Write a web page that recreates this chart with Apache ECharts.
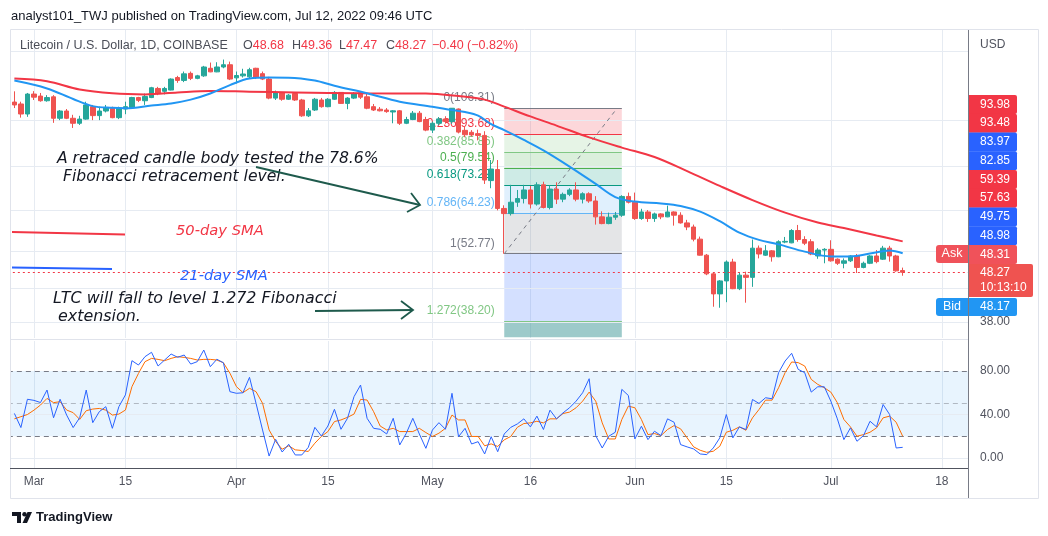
<!DOCTYPE html>
<html><head><meta charset="utf-8">
<script src="https://cdn.jsdelivr.net/npm/echarts@6/dist/echarts.min.js"></script>
<style>html,body{margin:0;padding:0;background:#fff;}#c{width:1048px;height:536px;}</style>
</head><body><div id="c"></div>
<script>
// ---------- DATA ----------
const axisStart = '2022-02-25';      // first category (left edge)
const axisDays = 148;                // number of daily categories on the time axis
const candleStart = '2022-02-26';
// [open, close, low, high]
const ohlc = [
[109.4,107.9,106.3,115.2],[108.4,103.3,101.5,109.6],[103.3,113.7,101.9,114.3],
[113.7,112.0,110.5,115.3],[112.6,110.1,109.6,114.3],[110.1,111.8,109.6,113.1],[112.2,101.2,99.0,113.1],
[101.2,104.8,100.3,105.3],[104.8,101.2,100.8,105.8],[101.2,98.8,96.6,102.9],[98.8,100.8,98.0,102.4],
[100.8,107.9,100.5,109.6],[107.0,102.5,100.3,107.9],[102.5,104.8,100.3,107.0],[104.8,106.5,104.1,107.9],
[106.2,101.5,101.2,107.0],[101.5,106.2,100.8,107.0],[105.8,107.0,103.2,109.6],[106.5,111.8,106.2,112.2],
[111.8,110.3,109.4,112.2],[110.1,112.4,107.9,114.0],[111.8,117.2,111.5,117.7],[116.8,114.0,113.1,117.7],
[115.2,116.8,113.5,117.7],[115.9,122.2,115.7,122.6],[123.1,121.4,120.0,124.1],[121.4,125.3,120.4,126.7],
[125.6,122.6,121.6,126.7],[122.6,124.1,122.1,124.7],[124.1,129.5,123.5,130.2],[128.7,126.5,126.3,132.3],
[126.5,129.5,126.3,132.5],[129.5,130.9,128.7,134.2],[130.9,122.2,121.6,132.9],
[122.9,124.3,119.6,126.7],[124.1,125.2,123.1,128.4],[123.5,127.8,122.6,129.0],[128.7,123.1,122.2,129.0],
[125.4,122.2,121.6,126.7],[122.2,111.5,110.9,123.5],[111.5,114.4,110.5,115.6],[114.4,110.9,110.1,114.8],
[110.9,113.1,110.5,113.7],[114.0,110.5,110.0,114.8],[110.5,102.4,101.9,111.1],[102.4,104.9,101.8,106.3],
[105.3,110.9,104.8,111.6],[110.5,107.0,106.5,111.6],[107.0,110.9,106.7,111.5],[110.9,114.6,110.5,115.3],
[114.6,108.7,108.4,114.8],[108.7,111.5,105.7,112.0],[111.5,114.0,111.0,114.8],[114.4,112.0,111.0,115.3],
[112.2,106.2,105.7,114.3],[107.0,105.3,104.8,108.4],[105.7,104.9,104.6,106.8],[105.3,104.5,103.9,106.3],
[104.3,104.9,98.8,105.3],[104.9,98.8,98.0,105.3],[98.8,100.6,98.4,101.9],[100.6,103.7,100.3,104.8],
[103.7,99.6,99.3,104.8],[100.6,95.6,95.1,101.9],
[95.6,98.8,94.3,99.6],[98.8,100.9,97.8,101.8],[100.9,99.6,98.6,102.2],[99.6,106.2,98.5,106.31],
[105.8,94.7,94.1,106.1],[95.5,93.5,92.4,97.5],[94.6,93.4,92.7,95.6],[94.0,93.2,91.0,95.8],
[93.2,75.2,73.8,95.1],[75.0,79.3,72.3,82.8],[79.1,65.6,65.0,82.8],[65.6,64.0,52.77,66.6],
[64.0,67.6,63.4,73.5],[67.6,68.8,66.1,71.7],[68.8,71.7,67.2,73.5],[71.7,67.0,65.6,73.1],
[67.0,73.5,66.5,74.4],[73.5,65.9,65.6,74.6],[65.9,72.0,65.3,73.3],[72.0,68.6,67.0,74.4],
[68.6,70.2,67.6,70.8],[70.2,71.7,69.6,72.3],[71.7,68.6,67.9,74.4],[68.6,70.4,67.2,70.9],
[70.4,68.0,67.4,70.9],[68.0,63.0,60.7,69.6],[63.0,61.0,60.8,64.7],[61.0,62.9,60.8,64.3],
[62.9,63.5,62.1,64.5],[63.5,69.5,63.0,69.9],[69.5,67.6,67.2,70.8],
[67.6,62.5,62.1,70.8],[62.5,64.5,62.1,65.5],[64.5,62.5,61.5,65.1],[62.5,63.9,61.5,64.3],
[63.9,63.0,62.3,64.1],[63.0,64.5,62.9,66.5],[64.5,63.5,60.4,64.7],[63.5,61.2,61.0,64.4],
[61.2,60.0,59.1,62.1],[60.0,56.6,56.0,60.7],[56.6,52.4,52.3,57.3],[52.4,47.9,47.6,52.7],
[47.9,43.5,40.9,48.3],[43.5,46.3,40.7,46.5],[46.3,50.7,41.8,51.1],[50.7,44.6,44.5,51.5],
[44.6,47.6,44.3,48.3],[47.6,47.1,41.7,48.4],[47.1,54.2,45.0,56.5],[54.2,52.7,51.6,54.9],
[52.4,53.5,52.2,55.0],[53.5,52.0,50.8,53.7],[52.0,55.9,51.9,56.3],[55.8,56.0,55.5,57.2],
[55.6,59.0,55.5,59.4],[59.0,56.5,55.9,60.6],[56.5,55.5,55.0,57.4],[55.9,52.7,52.4,56.6],
[52.2,53.7,51.5,54.2],[53.7,53.9,50.4,54.2],
[53.9,51.0,50.8,56.3],[51.4,50.4,50.0,51.6],[50.4,51.0,49.2,51.6],[51.0,52.2,50.7,52.4],
[52.2,49.4,48.1,52.7],[49.4,50.4,49.2,50.8],[50.4,52.2,50.2,52.4],[52.2,50.8,50.4,53.7],
[51.4,54.2,51.2,54.8],[54.2,52.2,50.8,54.8],[52.2,48.6,48.4,52.5],[48.68,48.27,47.47,49.36]
];
const sma21 = [['2022-02-26',121.3],['2022-03-03',116.8],['2022-03-07',111.0],['2022-03-10',107.3],['2022-03-13',106.4],['2022-03-15',106.2],['2022-03-19',107.6],['2022-03-22',108.7],['2022-03-25',110.7],['2022-03-28',114.0],['2022-03-31',118.7],['2022-04-03',122.5],['2022-04-06',123.1],['2022-04-09',123.0],['2022-04-13',121.3],['2022-04-16',118.3],['2022-04-21',114.1],['2022-04-26',109.6],['2022-05-01',107.0],['2022-05-04',105.3],['2022-05-06',104.3],['2022-05-08',102.5],['2022-05-10',98.4],['2022-05-12',95.6],['2022-05-15',91.2],['2022-05-18',86.7],['2022-05-22',80.2],['2022-05-26',73.8],['2022-05-29',69.3],['2022-06-01',67.8],['2022-06-05',67.2],['2022-06-08',66.4],['2022-06-11',64.6],['2022-06-14',61.7],['2022-06-17',58.4],['2022-06-20',56.4],['2022-06-23',55.2],['2022-06-27',53.3],['2022-07-01',52.1],['2022-07-04',52.1],['2022-07-07',52.8],['2022-07-10',53.6],['2022-07-12',52.9]];
const sma50 = [['2022-02-26',122.5],['2022-03-03',120.9],['2022-03-08',116.2],['2022-03-13',114.1],['2022-03-18',113.5],['2022-03-23',114.6],['2022-03-28',115.4],['2022-04-03',115.0],['2022-04-10',114.6],['2022-04-20',114.1],['2022-04-30',114.0],['2022-05-05',112.6],['2022-05-09',110.7],['2022-05-12',107.0],['2022-05-16',102.1],['2022-05-20',97.7],['2022-05-25',92.3],['2022-05-30',87.9],['2022-06-04',84.0],['2022-06-09',78.5],['2022-06-14',73.1],['2022-06-19',68.3],['2022-06-24',64.3],['2022-06-29',61.3],['2022-07-03',59.7],['2022-07-08',57.6],['2022-07-12',56.0]];
const stochK = [41,28,54,
53,51,62.5,37,54,39.5,28,37,62.5,32.5,42.6,47.2,27.3,47.2,58,89.5,85.5,93.2,97.2,84.6,90.1,95.6,92.6,94.7,86.4,88.6,99.3,84,90.8,87.6,61,
59.5,60,74.2,50.3,25.7,1.8,17.2,5.5,12.6,2.8,2.8,9.8,28.2,20.2,29.4,44.8,26.4,36.5,56.4,67.1,36.5,27.3,26.4,22.1,36.5,12,22.7,36.5,22.1,8.9,
25.7,32.5,26.4,59.5,19.6,27.3,12.9,15,3.7,19.6,5.8,22.1,28.2,31.3,36,28.6,38.5,26.2,44,36,41.5,46.2,52.3,60,72.9,20.6,9.2,20,23.7,63.1,57.5,
17.5,29.2,16.9,24.6,20.6,36,32.9,12.3,10.2,8.3,3.7,3.1,9.2,18.5,40,18.5,28.6,26.2,53.8,50.2,55.4,54.5,78.5,89.2,96.3,81.5,78.5,60.6,65.5,65.5,
52.3,36,16.9,27.7,15.4,20.6,33.8,28.6,49.2,40,9.2,9.8];
const stochD = [36,38,40,
44,48.7,54.8,50.9,51.8,44.1,41.7,35.5,43.5,45,45.6,44,39.5,40.4,44.1,65.6,77.8,88.6,91.6,90.7,89.5,91.6,93.2,92.5,91.6,90.1,90.7,90.7,90.1,87.6,78,
65.6,60.1,64.1,61,50.3,25.8,15.2,8.1,11.2,7.5,6.9,6.0,13.6,19.8,24.3,33.5,35,37.4,40.4,53.9,53.3,42.6,29.4,25.8,27.3,24.3,24.3,24.3,27.3,23.4,
19.8,22.8,27.3,39.5,35,35,19.8,19.8,11.2,13,10.6,16.7,19.8,28.2,31.7,32.3,33.8,32.3,36,36,40.9,42.2,46.2,52.3,60.6,52.3,32.3,17.5,17.5,35.4,47.7,
46.2,35.4,21.5,22.5,20.6,26.2,29.8,26.8,18.5,10.2,7.1,5.2,6.2,10.8,23.7,25.5,28.6,25.5,36.9,44.6,53.2,53.2,64.6,78.5,88.3,87.7,84.6,72.3,67.7,64.6,
60.6,50.8,35.4,28.6,20,21.5,23.7,27.7,36.9,38.5,32.9,20];
const tickDates = ['2022-03-01','2022-03-15','2022-04-01','2022-04-15','2022-05-01','2022-05-16','2022-06-01','2022-06-15','2022-07-01','2022-07-18'];
const tickLabels = ['Mar','15','Apr','15','May','16','Jun','15','Jul','18'];
const priceGridLevels = [139.8,100.3,80.4,65.1,53.3,44.7,38.0];
const fibStart = '2022-05-12', fibEnd = '2022-05-30';
const fibRatios = [0,0.236,0.382,0.5,0.618,0.786,1,1.272];
const fibPrices = [106.31,93.68,85.86,79.54,73.22,64.23,52.77,38.20];
const fibLineColors = ['#787b86','#f23645','#81c784','#4caf50','#089981','#64b5f6','#787b86','#81c784'];
const fibFillColors = ['rgba(242,54,69,0.2)','rgba(129,199,132,0.2)','rgba(76,175,80,0.2)','rgba(8,153,129,0.2)','rgba(100,181,246,0.2)','rgba(120,123,134,0.2)','rgba(41,98,255,0.2)','rgba(60,150,150,0.5)'];
const lastPrice = 48.27;
const stochLevels = {upper:80, mid:50, lower:20};
const rightTags = [['93.98','#f23645'],['93.48','#f23645'],['83.97','#2962ff'],['82.85','#2962ff'],['59.39','#f23645'],['57.63','#f23645'],['49.75','#2962ff'],['48.98','#2962ff'],['48.31','#f0525a']];

// ---------- BUILD ----------
const dates = [];
{ const d0 = new Date(axisStart + 'T00:00:00Z');
  for (let i = 0; i < axisDays; i++) { const d = new Date(d0.getTime() + i*86400000); dates.push(d.toISOString().slice(0,10)); } }
const offset = dates.indexOf(candleStart);
const pad = n => new Array(n).fill('-');
const candleData = pad(offset).concat(ohlc);
const kData = pad(offset).concat(stochK);
const dData = pad(offset).concat(stochD);
const tickMap = {}; tickDates.forEach((d,i)=>tickMap[d]=tickLabels[i]);
const isTick = (idx, val) => tickMap[val] !== undefined;
const FONT = 'Liberation Sans';
const gridColor = '#e6ebf2';
const axisTextColor = '#50535e';

const fibMarkLines = fibPrices.map((p,i)=>[{coord:[fibStart,p], lineStyle:{color:fibLineColors[i], width:1, type:'solid'}},{coord:[fibEnd,p]}]);
fibMarkLines.push([{coord:[fibStart,fibPrices[6]], lineStyle:{color:'#787b86', width:1, type:[4,4]}},{coord:['2022-05-29',105]}]);
const fibAreas = [];
for (let i=0;i<fibPrices.length-1;i++) fibAreas.push([{coord:[fibStart,fibPrices[i]], itemStyle:{color:fibFillColors[i]}},{coord:[fibEnd,fibPrices[i+1]]}]);
fibAreas.push([{coord:[fibStart,fibPrices[7]], itemStyle:{color:fibFillColors[7]}},{coord:[fibEnd,35.3]}]);
const fibLabels = fibPrices.map((p,i)=>({name: String(fibRatios[i]) + '(' + p.toFixed(2) + ')', coord:[fibStart,p], label:{color:fibLineColors[i]}}));

const option = {
  animation:false,
  backgroundColor:'#ffffff',
  textStyle:{fontFamily:FONT},
  grid:[
    {left:7.84, right:80, top:30, height:308},
    {left:7.84, right:80, top:341, height:127}
  ],
  xAxis:[
    {type:'category', gridIndex:0, data:dates, boundaryGap:false,
     axisLine:{show:false}, axisTick:{show:false}, axisLabel:{show:false},
     splitLine:{show:true, interval:isTick, lineStyle:{color:gridColor, width:1}}},
    {type:'category', gridIndex:1, data:dates, boundaryGap:false,
     axisLine:{show:true, lineStyle:{color:'#50535e', width:1}}, axisTick:{show:false},
     axisLabel:{show:true, interval:isTick, formatter:v=>tickMap[v]||'', color:axisTextColor, fontSize:12, margin:8, fontFamily:FONT},
     splitLine:{show:true, interval:isTick, lineStyle:{color:gridColor, width:1}}}
  ],
  yAxis:[
    {type:'log', logBase:10, gridIndex:0, min:35.19, max:154.7, position:'right',
     axisLine:{show:false}, axisTick:{show:false}, axisLabel:{show:false}, splitLine:{show:false}},
    {type:'value', gridIndex:1, min:-9.2, max:107.6, position:'right',
     axisLine:{show:false}, axisTick:{show:false}, axisLabel:{show:false}, splitLine:{show:false}}
  ],
  series:[
    {name:'priceGrid', type:'line', xAxisIndex:0, yAxisIndex:0, data:[], silent:true,
     markLine:{silent:true, symbol:'none', z:1, animation:false,
       lineStyle:{color:gridColor, width:1, type:'solid'},
       label:{show:false},
       data: priceGridLevels.map(v=>({yAxis:v, label:{show: v===38.0, position:'end', distance:12, formatter:v.toFixed(2), color:axisTextColor, fontSize:12, fontFamily:FONT}}))}},
    {name:'fib', type:'line', xAxisIndex:0, yAxisIndex:0, data:[], silent:true,
     markArea:{silent:true, z:1, data:fibAreas},
     markLine:{silent:true, symbol:'none', z:3, label:{show:false}, data:fibMarkLines},
     markPoint:{silent:true, z:4, symbol:'circle', symbolSize:1, itemStyle:{color:'rgba(0,0,0,0)'},
       label:{show:true, position:'left', distance:9, offset:[0,-10.5], fontSize:12, fontFamily:FONT, formatter:p=>p.name},
       data:fibLabels}},
    {name:'LTCUSD', type:'candlestick', xAxisIndex:0, yAxisIndex:0, data:candleData, barWidth:5, clip:false, z:5,
     itemStyle:{color:'#26a69a', color0:'#ef5350', borderColor:'#26a69a', borderColor0:'#ef5350', borderWidth:1},
     markLine:{silent:true, symbol:'none', z:6, label:{show:false},
       data:[{yAxis:lastPrice, lineStyle:{color:'#f23645', width:1, type:[2,3]}}]}},
    {name:'SMA 50', type:'line', xAxisIndex:0, yAxisIndex:0, data:sma50, smooth:0.35, showSymbol:false, z:7,
     lineStyle:{color:'#f23645', width:2}},
    {name:'SMA 21', type:'line', xAxisIndex:0, yAxisIndex:0, data:sma21, smooth:0.35, showSymbol:false, z:7,
     lineStyle:{color:'#2196f3', width:2}},
    {name:'stochBands', type:'line', xAxisIndex:1, yAxisIndex:1, data:[], silent:true,
     markArea:{silent:true, z:1, data:[[{yAxis:stochLevels.lower, itemStyle:{color:'rgba(33,150,243,0.1)'}},{yAxis:stochLevels.upper}]]},
     markLine:{silent:true, symbol:'none', z:2,
       label:{show:false},
       data:[
         {yAxis:stochLevels.upper, lineStyle:{color:'#787b86', width:1, type:[5,4]}, label:{show:true, position:'end', distance:12, formatter:'80.00', color:axisTextColor, fontSize:12, fontFamily:FONT}},
         {yAxis:stochLevels.mid, lineStyle:{color:'rgba(120,123,134,0.5)', width:1, type:[5,4]}},
         {yAxis:stochLevels.lower, lineStyle:{color:'#787b86', width:1, type:[5,4]}},
         {yAxis:40, lineStyle:{color:gridColor, width:1, type:'solid'}, label:{show:true, position:'end', distance:12, formatter:'40.00', color:axisTextColor, fontSize:12, fontFamily:FONT}},
         {yAxis:0, lineStyle:{color:gridColor, width:1, type:'solid'}, label:{show:true, position:'end', distance:12, formatter:'0.00', color:axisTextColor, fontSize:12, fontFamily:FONT}}
       ]}},
    {name:'%D', type:'line', xAxisIndex:1, yAxisIndex:1, data:dData, showSymbol:false, z:5, lineStyle:{color:'#ff6d00', width:1}},
    {name:'%K', type:'line', xAxisIndex:1, yAxisIndex:1, data:kData, showSymbol:false, z:6, lineStyle:{color:'#2962ff', width:1}}
  ],
  graphic:[]
};

// ---------- ANNOTATIONS / CHROME ----------
const g = option.graphic;
const txt = (x,y,text,extra) => g.push(Object.assign({type:'text', z:100, silent:true, style:Object.assign({x, y, text, fontFamily:FONT, fontSize:12, fill:'#131722', verticalAlign:'middle'}, extra||{})}));
g.push({type:'rect', z:90, silent:true, shape:{x:0,y:28,width:10,height:475}, style:{fill:'#ffffff'}});
g.push({type:'rect', z:91, silent:true, shape:{x:10.5,y:29.5,width:1028,height:469}, style:{fill:'none', stroke:'#e0e3eb', lineWidth:1}});
g.push({type:'line', z:92, silent:true, shape:{x1:10,y1:339.5,x2:968,y2:339.5}, style:{stroke:'#e0e3eb', lineWidth:1}});
g.push({type:'line', z:92, silent:true, shape:{x1:10,y1:468.5,x2:968,y2:468.5}, style:{stroke:'#50535e', lineWidth:1}});
g.push({type:'line', z:92, silent:true, shape:{x1:968.5,y1:30,x2:968.5,y2:498}, style:{stroke:'#787b86', lineWidth:1}});

txt(11,16,'analyst101_TWJ published on TradingView.com, Jul 12, 2022 09:46 UTC',{fontSize:13});
txt(20,46,'Litecoin / U.S. Dollar, 1D, COINBASE',{fontSize:12.5, fill:'#4a4d57'});
const legendVals = [['O','48.68',243],['H','49.36',292],['L','47.47',339],['C','48.27',386]];
legendVals.forEach(([k,v,x])=>g.push({type:'text', z:100, silent:true, style:{x, y:46, verticalAlign:'middle', text:'{k|'+k+'}{v|'+v+'}', fontFamily:FONT, fontSize:12.5,
  rich:{k:{fill:'#4a4d57', fontSize:12.5, fontFamily:FONT}, v:{fill:'#f23645', fontSize:12.5, fontFamily:FONT}}}}));
txt(432,46,'\u22120.40 (\u22120.82%)',{fontSize:12.5, fill:'#f23645'});

const ital = {fontStyle:'italic', fontFamily:'DejaVu Sans', fontSize:15.6, fill:'#131722'};
txt(57,159,'A retraced candle body tested the 78.6%',ital);
txt(63,177,'Fibonacci retracement level.',ital);
txt(176,231,'50-day SMA',Object.assign({},ital,{fill:'#f23645', fontSize:14.7}));
txt(180,276,'21-day SMA',Object.assign({},ital,{fill:'#2962ff', fontSize:14.7}));
txt(53,299,'LTC will fall to level 1.272 Fibonacci',Object.assign({},ital,{fontSize:15.9}));
txt(58,317,'extension.',Object.assign({},ital,{fontSize:15.9}));

const arrowColor = '#1e5a4c';
g.push({type:'line', z:100, silent:true, shape:{x1:256,y1:167,x2:420,y2:205}, style:{stroke:arrowColor, lineWidth:1.8}});
g.push({type:'polyline', z:100, silent:true, shape:{points:[[411,193],[420,205],[407,212]]}, style:{stroke:arrowColor, lineWidth:1.8, fill:'none'}});
g.push({type:'line', z:100, silent:true, shape:{x1:315,y1:311,x2:413,y2:310}, style:{stroke:arrowColor, lineWidth:1.8}});
g.push({type:'polyline', z:100, silent:true, shape:{points:[[401,301],[413,310],[401,319]]}, style:{stroke:arrowColor, lineWidth:1.8, fill:'none'}});
g.push({type:'line', z:100, silent:true, shape:{x1:12,y1:232,x2:125,y2:234.5}, style:{stroke:'#f23645', lineWidth:2}});
g.push({type:'line', z:100, silent:true, shape:{x1:12,y1:267.5,x2:112,y2:269}, style:{stroke:'#2962ff', lineWidth:2}});

// price-scale tags
txt(980,45,'USD',{fontSize:12, fill:'#50535e'});
const tagH = 18.75;
rightTags.forEach(([t,c],i)=>{
  const y = 95 + i*tagH;
  g.push({type:'rect', z:100, silent:true, shape:{x:969,y:y,width:48,height:tagH+0.3, r:[0,2,2,0]}, style:{fill:c}});
  txt(980, y+tagH/2, t, {fill:'#ffffff', fontSize:12});
});
g.push({type:'rect', z:100, silent:true, shape:{x:936,y:245,width:32,height:18, r:[3,0,0,3]}, style:{fill:'#f0525a'}});
txt(952,254,'Ask',{fill:'#ffffff', fontSize:12.5, align:'center'});
g.push({type:'rect', z:100, silent:true, shape:{x:969,y:264,width:64,height:33, r:[0,2,2,0]}, style:{fill:'#ef5350'}});
txt(980,272.5,'48.27',{fill:'#ffffff', fontSize:12});
txt(980,288,'10:13:10',{fill:'#ffffff', fontSize:12});
g.push({type:'rect', z:100, silent:true, shape:{x:936,y:298,width:32,height:18, r:[3,0,0,3]}, style:{fill:'#2196f3'}});
txt(952,307,'Bid',{fill:'#ffffff', fontSize:12.5, align:'center'});
g.push({type:'rect', z:100, silent:true, shape:{x:969,y:298,width:48,height:18, r:[0,2,2,0]}, style:{fill:'#2196f3'}});
txt(980,307,'48.17',{fill:'#ffffff', fontSize:12});

// footer logo
g.push({type:'polygon', z:100, silent:true, shape:{points:[[12,512],[21,512],[21,523],[17,523],[17,516],[12,516]]}, style:{fill:'#131722'}});
g.push({type:'circle', z:100, silent:true, shape:{cx:24.5,cy:514.3,r:2.2}, style:{fill:'#131722'}});
g.push({type:'polygon', z:100, silent:true, shape:{points:[[27.5,512],[32,512],[27,523],[22.5,523]]}, style:{fill:'#131722'}});
txt(36,517.5,'TradingView',{fontSize:13, fontWeight:'bold', fill:'#131722'});

const chart = echarts.init(document.getElementById('c'), null, {renderer:'canvas'});
chart.setOption(option);
</script></body></html>
